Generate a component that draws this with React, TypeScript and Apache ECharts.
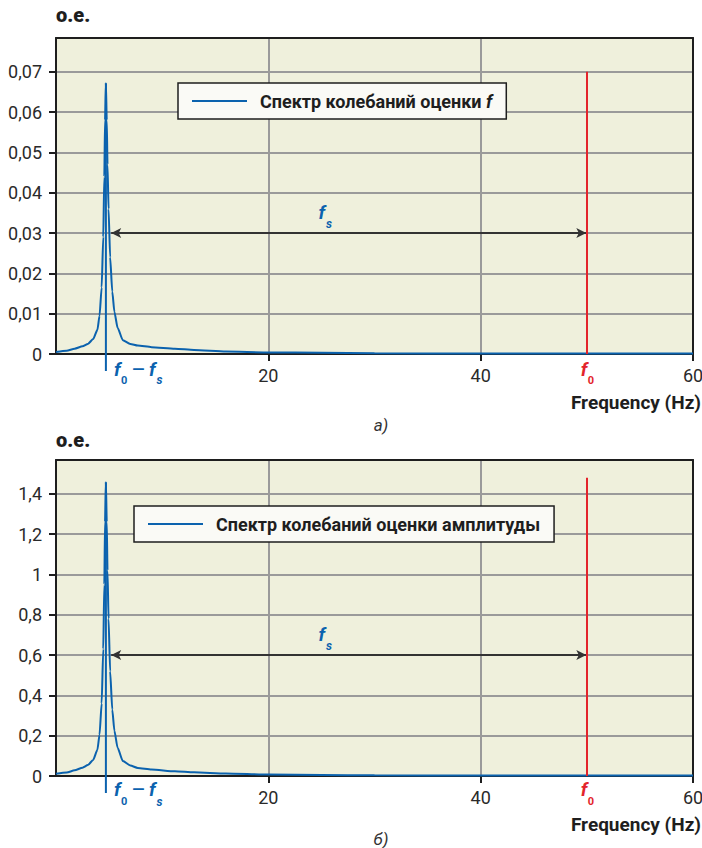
import React, { useEffect, useRef } from 'react';
import * as echarts from 'echarts';

// ---- data ----
const freq = [0, 1, 1.75, 2.5, 3, 3.5, 3.9, 4.1, 4.3, 4.45, 4.55, 4.62, 4.7, 4.78, 4.85, 4.95, 5.1, 5.3, 5.5, 5.8, 6.3, 7, 7.7, 9, 11.2, 13, 16, 20, 25, 30, 40, 50, 60];
const specF = [0.0005, 0.0008, 0.0013, 0.0019, 0.0025, 0.0037, 0.006, 0.0095, 0.0165, 0.029, 0.044, 0.058, 0.0672, 0.058, 0.047, 0.036, 0.024, 0.0155, 0.0105, 0.0065, 0.0034, 0.0025, 0.0021, 0.0017, 0.0013, 0.001, 0.0006, 0.0004, 0.0003, 0.0002, 0.0001, 0.0001, 0.0001];
const specAmp = [0.011, 0.017, 0.028, 0.041, 0.054, 0.08, 0.13, 0.205, 0.36, 0.63, 0.95, 1.26, 1.458, 1.26, 1.02, 0.78, 0.52, 0.33, 0.225, 0.14, 0.074, 0.052, 0.04, 0.032, 0.023, 0.018, 0.012, 0.007, 0.005, 0.0035, 0.002, 0.002, 0.002];
const seriesNames = ['Спектр колебаний оценки f', 'Спектр колебаний оценки амплитуды'];
const yTicksTop = [0, 0.01, 0.02, 0.03, 0.04, 0.05, 0.06, 0.07];
const yTicksBottom = [0, 0.2, 0.4, 0.6, 0.8, 1, 1.2, 1.4];
const yMax = [0.0784, 1.568];
const yStep = [0.01, 0.2];
const xMin = 0;
const xMax = 60;
const xStep = 20;
const peakFreq = 4.7;      // f0 - fs
const f0 = 50;             // f0
const arrowY = [0.03, 0.6];
const arrowFrom = 5.2;
const arrowTo = 49.95;
const redTop = [0.07, 1.48];
const fsLabelX = 25.2;
const subLabels = ['а)', 'б)'];

const FONT = "Roboto, 'Liberation Sans', sans-serif";
const BLUE = '#0b62ae';
const RED = '#e3242b';
const BG = '#eff0dc';
const GRIDC = '#9a9a9a';
const INK = '#1e1e1e';

const grids = [
  { left: 56, top: 38, width: 637, height: 316 },
  { left: 56, top: 460, width: 637, height: 316 },
];

function fmt(v: number) {
  return v === 0 ? '0' : String(v).replace('.', ',');
}

export default function App() {
  const ref = useRef<HTMLDivElement>(null);
  useEffect(() => {
    document.body.style.margin = '0';
    const chart = echarts.init(ref.current!, null, { renderer: 'svg' });
    const dataSets = [specF, specAmp];
    const yTicks = [yTicksTop, yTicksBottom];

    const xAxis: any[] = [];
    const yAxis: any[] = [];
    const series: any[] = [];
    [0, 1].forEach((gi) => {
      xAxis.push({
        type: 'value', gridIndex: gi, position: 'bottom', min: xMin, max: xMax, interval: xStep,
        axisLine: { show: true, onZero: false, lineStyle: { color: INK, width: 2 } },
        axisTick: { show: true, length: 7, lineStyle: { color: INK, width: 2 } },
        axisLabel: { showMinLabel: false, margin: 12, fontSize: 18, fontFamily: FONT, color: '#2a2a2a' },
        splitLine: { show: true, lineStyle: { color: GRIDC, width: 2 } },
      });
      xAxis.push({
        type: 'value', gridIndex: gi, position: 'top', min: xMin, max: xMax,
        axisLine: { show: true, onZero: false, lineStyle: { color: INK, width: 2 } },
        axisTick: { show: false }, axisLabel: { show: false }, splitLine: { show: false },
      });
      yAxis.push({
        type: 'value', gridIndex: gi, position: 'left', min: 0, max: yMax[gi], interval: yStep[gi],
        name: 'o.e.', nameLocation: 'end', nameGap: gi === 0 ? 23 : 20,
        nameTextStyle: { fontFamily: FONT, fontSize: 20, fontWeight: 900, color: INK, align: 'left', verticalAlign: 'middle' },
        axisLine: { show: true, onZero: false, lineStyle: { color: INK, width: 2 } },
        axisTick: { show: true, length: 7, lineStyle: { color: INK, width: 2 }, customValues: yTicks[gi] },
        axisLabel: { customValues: yTicks[gi], formatter: (v: number) => fmt(v), margin: 14, fontSize: 18, fontFamily: FONT, color: '#2a2a2a' },
        splitLine: { show: true, lineStyle: { color: GRIDC, width: 2 } },
      });
      yAxis.push({
        type: 'value', gridIndex: gi, position: 'right', min: 0, max: yMax[gi],
        axisLine: { show: true, onZero: false, lineStyle: { color: INK, width: 2 } },
        axisTick: { show: false }, axisLabel: { show: false }, splitLine: { show: false },
      });
      series.push({
        type: 'line', name: seriesNames[gi], xAxisIndex: gi * 2, yAxisIndex: gi * 2,
        data: freq.map((f, i) => [f, dataSets[gi][i]]),
        symbol: 'none', smooth: 0.2, smoothMonotone: 'x',
        color: BLUE, lineStyle: { color: BLUE, width: 2 }, z: 3,
        markLine: {
          silent: true, animation: false,
          symbol: ['arrow', 'arrow'], symbolSize: [7.5, 10],
          label: { show: false },
          lineStyle: { type: 'solid', color: '#333', width: 2 },
          data: [
            [{ coord: [arrowFrom, arrowY[gi]] }, { coord: [arrowTo, arrowY[gi]] }],
            [
              { coord: [f0, 0], symbol: 'none', lineStyle: { type: 'solid', color: RED, width: 2 } },
              { coord: [f0, redTop[gi]], symbol: 'none' },
            ],
          ],
        },
      });
    });

    const legendText = {
      fontFamily: FONT, fontSize: 18, fontWeight: 'bold', color: INK, padding: [0, 0, 0, 8],
      rich: {
        n: { fontFamily: FONT, fontSize: 18, fontWeight: 'bold', color: INK },
        i: { fontFamily: FONT, fontSize: 18, fontWeight: 'bold', fontStyle: 'italic', color: INK },
      },
    };
    const legendBase = {
      orient: 'horizontal', selectedMode: false, icon: 'rect', itemWidth: 55, itemHeight: 2,
      backgroundColor: '#fafaf6', borderColor: INK, borderWidth: 1.5, borderRadius: 0,
      padding: [9, 14, 9, 14], textStyle: legendText,
    };

    chart.setOption({
      animation: false,
      grid: grids.map((g) => ({ ...g, show: true, backgroundColor: BG, borderWidth: 0, containLabel: false, outerBoundsMode: 'none' })),
      xAxis, yAxis, series,
      legend: [
        { ...legendBase, data: [seriesNames[0]], left: 178, top: 83, formatter: () => '{n|Спектр колебаний оценки }{i|f}' },
        { ...legendBase, data: [seriesNames[1]], left: 134, top: 506, formatter: (n: string) => '{n|' + n + '}' },
      ],
    });

    const graphic: any[] = [];
    const text = (x: number, y: number, t: string, size: number, color: string, bold: boolean, italic: boolean, align = 'left') => ({
      type: 'text', x, y, silent: true, z: 20,
      style: { text: t, fill: color, fontSize: size, fontFamily: FONT, fontWeight: bold ? 'bold' : 'normal', fontStyle: italic ? 'italic' : 'normal', align, verticalAlign: 'middle' },
    });
    [0, 1].forEach((gi) => {
      const P = (x: number, y: number) => chart.convertToPixel({ xAxisIndex: gi * 2, yAxisIndex: gi * 2 }, [x, y]) as number[];
      const base = P(peakFreq, 0);
      const top = P(peakFreq, dataSets[gi][freq.indexOf(peakFreq)]);
      const fOff = gi === 0 ? 15.5 : 13;
      const sOff = gi === 0 ? 26 : 25.5;
      graphic.push({ type: 'line', silent: true, z: 15, shape: { x1: base[0], y1: top[1], x2: base[0], y2: base[1] + 17 }, style: { stroke: BLUE, lineWidth: 2 } });
      graphic.push(text(base[0] + 8, base[1] + fOff, 'f', 19, BLUE, true, true));
      graphic.push(text(base[0] + 15, base[1] + sOff, '0', 11, BLUE, true, false));
      graphic.push(text(base[0] + 32.5, base[1] + fOff, '—', 16, BLUE, true, false, 'center'));
      graphic.push(text(base[0] + 43, base[1] + fOff, 'f', 19, BLUE, true, true));
      graphic.push(text(base[0] + 50.5, base[1] + sOff, 's', 12, BLUE, true, true));
      const r = P(f0, 0);
      graphic.push(text(r[0] - 6, r[1] + fOff, 'f', 19, RED, true, true));
      graphic.push(text(r[0] + 1, r[1] + sOff, '0', 11, RED, true, false));
      const a = P(fsLabelX, arrowY[gi]);
      graphic.push(text(a[0] - 5, a[1] - 20.5, 'f', 19, BLUE, true, true));
      graphic.push(text(a[0] + 2.5, a[1] - 9, 's', 12, BLUE, true, true));
      graphic.push(text(701, r[1] + 48, 'Frequency (Hz)', 19, INK, true, false, 'right'));
      graphic.push(text(381, r[1] + (gi === 0 ? 71 : 63), subLabels[gi], 17, '#333', false, true, 'center'));
    });
    chart.setOption({ graphic });

    return () => chart.dispose();
  }, []);
  return <div ref={ref} style={{ width: 702, height: 848 }} />;
}
